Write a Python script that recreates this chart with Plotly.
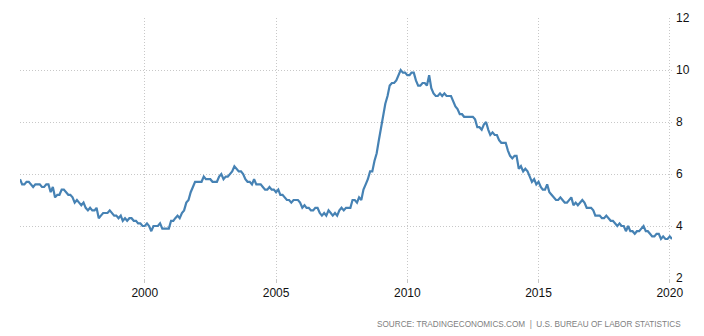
import pandas as pd
import plotly.graph_objects as go

# US unemployment rate, monthly, Apr 1995 - Feb 2020
start_month = "1995-04-01"
rate_1995 = [5.8, 5.6, 5.6, 5.7, 5.7, 5.6, 5.5, 5.6, 5.6]
rate_1996 = [5.6, 5.5, 5.5, 5.6, 5.6, 5.3, 5.5, 5.1, 5.2, 5.2, 5.4, 5.4]
rate_1997 = [5.3, 5.2, 5.2, 5.1, 4.9, 5.0, 4.9, 4.8, 4.9, 4.7, 4.6, 4.7]
rate_1998 = [4.6, 4.6, 4.7, 4.3, 4.4, 4.5, 4.5, 4.5, 4.6, 4.5, 4.4, 4.4]
rate_1999 = [4.3, 4.4, 4.2, 4.3, 4.2, 4.3, 4.3, 4.2, 4.2, 4.1, 4.1, 4.0]
rate_2000 = [4.0, 4.1, 4.0, 3.8, 4.0, 4.0, 4.0, 4.1, 3.9, 3.9, 3.9, 3.9]
rate_2001 = [4.2, 4.2, 4.3, 4.4, 4.3, 4.5, 4.6, 4.9, 5.0, 5.3, 5.5, 5.7]
rate_2002 = [5.7, 5.7, 5.7, 5.9, 5.8, 5.8, 5.8, 5.7, 5.7, 5.7, 5.9, 6.0]
rate_2003 = [5.8, 5.9, 5.9, 6.0, 6.1, 6.3, 6.2, 6.1, 6.1, 6.0, 5.8, 5.7]
rate_2004 = [5.7, 5.6, 5.8, 5.6, 5.6, 5.6, 5.5, 5.4, 5.4, 5.5, 5.4, 5.4]
rate_2005 = [5.3, 5.4, 5.2, 5.2, 5.1, 5.0, 5.0, 4.9, 5.0, 5.0, 5.0, 4.9]
rate_2006 = [4.7, 4.8, 4.7, 4.7, 4.6, 4.6, 4.7, 4.7, 4.5, 4.4, 4.5, 4.4]
rate_2007 = [4.6, 4.5, 4.4, 4.5, 4.4, 4.6, 4.7, 4.6, 4.7, 4.7, 4.7, 5.0]
rate_2008 = [5.0, 4.9, 5.1, 5.0, 5.4, 5.6, 5.8, 6.1, 6.1, 6.5, 6.8, 7.3]
rate_2009 = [7.8, 8.3, 8.7, 9.0, 9.4, 9.5, 9.5, 9.6, 9.8, 10.0, 9.9, 9.9]
rate_2010 = [9.8, 9.8, 9.9, 9.9, 9.6, 9.4, 9.4, 9.5, 9.5, 9.4, 9.8, 9.3]
rate_2011 = [9.1, 9.0, 9.0, 9.1, 9.0, 9.1, 9.0, 9.0, 9.0, 8.8, 8.6, 8.5]
rate_2012 = [8.3, 8.3, 8.2, 8.2, 8.2, 8.2, 8.2, 8.1, 7.8, 7.8, 7.7, 7.9]
rate_2013 = [8.0, 7.7, 7.5, 7.6, 7.5, 7.5, 7.3, 7.2, 7.2, 7.2, 6.9, 6.7]
rate_2014 = [6.6, 6.7, 6.7, 6.2, 6.3, 6.1, 6.2, 6.1, 5.9, 5.7, 5.8, 5.6]
rate_2015 = [5.7, 5.5, 5.4, 5.4, 5.6, 5.3, 5.2, 5.1, 5.0, 5.0, 5.1, 5.0]
rate_2016 = [4.9, 4.9, 5.0, 5.1, 4.8, 4.9, 4.8, 4.9, 5.0, 4.9, 4.7, 4.7]
rate_2017 = [4.7, 4.6, 4.4, 4.4, 4.4, 4.3, 4.3, 4.4, 4.3, 4.2, 4.2, 4.1]
rate_2018 = [4.0, 4.1, 4.0, 4.0, 3.8, 4.0, 3.8, 3.8, 3.7, 3.8, 3.8, 3.9]
rate_2019 = [4.0, 3.8, 3.8, 3.7, 3.6, 3.6, 3.7, 3.7, 3.5, 3.6, 3.5, 3.5]
rate_2020 = [3.6, 3.5]

x_tick_years = ["2000", "2005", "2010", "2015", "2020"]
y_ticks = [2, 4, 6, 8, 10, 12]
source_text = "SOURCE: TRADINGECONOMICS.COM  |  U.S. BUREAU OF LABOR STATISTICS"

values = (rate_1995 + rate_1996 + rate_1997 + rate_1998 + rate_1999 + rate_2000
          + rate_2001 + rate_2002 + rate_2003 + rate_2004 + rate_2005 + rate_2006
          + rate_2007 + rate_2008 + rate_2009 + rate_2010 + rate_2011 + rate_2012
          + rate_2013 + rate_2014 + rate_2015 + rate_2016 + rate_2017 + rate_2018
          + rate_2019 + rate_2020)
dates = pd.date_range(start_month, periods=len(values), freq="MS")

fig = go.Figure()
fig.add_trace(go.Scatter(
    x=dates, y=values, mode="lines",
    line=dict(color="#4682b4", width=2.2),
    hoverinfo="x+y",
))

# page has an 8px body margin, so the figure is sized 696x328
fig.update_layout(
    width=696, height=328,
    margin=dict(l=12, r=32, t=10, b=58),
    paper_bgcolor="white", plot_bgcolor="white",
    showlegend=False,
    font=dict(family="Liberation Sans, Arial, sans-serif", size=12, color="#222"),
    xaxis=dict(
        range=[dates[0], dates[-1]],
        tickvals=[y + "-01-01" for y in x_tick_years],
        ticktext=x_tick_years,
        showgrid=True, gridcolor="#c8c8c8", griddash="1px,2px", gridwidth=1,
        zeroline=False, showline=False, automargin=False,
        ticks="outside", ticklen=4, tickcolor="#c8c8c8",
        tickfont=dict(size=12, color="#111"),
    ),
    yaxis=dict(
        range=[2, 12], side="right",
        tickvals=y_ticks,
        showgrid=True, gridcolor="#c8c8c8", griddash="1px,2px", gridwidth=1,
        zeroline=False, showline=False, automargin=False,
        tickfont=dict(size=12, color="#111"),
        ticklabelstandoff=3,
    ),
    annotations=[dict(
        text=source_text, xref="paper", yref="paper",
        x=1.0, y=-0.18, xanchor="right", yanchor="middle",
        showarrow=False,
        font=dict(size=8.2, color="#808080"),
        xshift=11,
    )],
)

fig.write_html("out.html")
